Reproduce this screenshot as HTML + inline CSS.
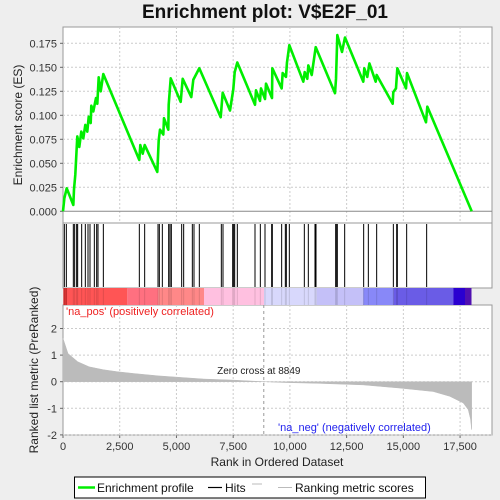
<!DOCTYPE html>
<html><head><meta charset="utf-8"><style>
body{margin:0;background:#eeeeee;}
svg{display:block;font-family:"Liberation Sans","DejaVu Sans",sans-serif;}
</style></head><body>
<svg id="chart" width="500" height="500"></svg>
<script>
const esRanks=[0,59,163,455,485,542,630,718,807,895,983,1071,1133,1221,1247,1335,1454,1512,1573,1662,1776,3363,3407,3513,3601,4156,4218,4275,4421,4451,4641,4658,4747,5187,5275,5654,5743,6007,6950,7038,7360,7505,7567,7682,8462,8506,8682,8726,8903,8947,9211,9226,9637,9681,9827,9871,9975,10591,10653,10767,10812,10962,11137,11988,12032,12090,12296,12428,13235,13279,13411,13504,13781,13825,14530,14556,14675,14735,15117,15161,15998,16056,18012];
const esValues=[0,0.0135,0.024,0.0066,0.023,0.038,0.078,0.067,0.083,0.076,0.090,0.083,0.0985,0.092,0.110,0.104,0.118,0.112,0.1396,0.125,0.143,0.0535,0.069,0.060,0.069,0.041,0.074,0.085,0.080,0.097,0.085,0.111,0.1385,0.114,0.138,0.119,0.137,0.149,0.098,0.1235,0.105,0.127,0.145,0.155,0.111,0.126,0.115,0.128,0.117,0.133,0.118,0.149,0.128,0.144,0.140,0.155,0.173,0.135,0.145,0.138,0.152,0.142,0.171,0.123,0.138,0.1836,0.166,0.181,0.135,0.149,0.140,0.154,0.135,0.142,0.112,0.124,0.128,0.149,0.128,0.144,0.0927,0.109,0];
const hitRanks=[59,147,455,514,602,646,823,984,1102,1190,1381,1484,1543,1778,3364,3599,4187,4246,4378,4657,4716,4775,5230,5318,5700,5773,6008,6978,7051,7478,7522,7566,7683,8462,8697,8903,9196,9226,9637,9799,9843,9975,10636,10812,11106,11150,12017,12046,12090,12414,13251,13457,13824,14559,14706,14735,15146,16027];
const metricRanks=[0,220,650,1150,1780,2400,3100,4200,5200,6200,7500,8849,9710,11175,13230,14850,16320,17050,17640,17860,17960,18010];
const metricValues=[1.63,1.06,0.75,0.56,0.45,0.375,0.31,0.22,0.16,0.10,0.06,0,-0.03,-0.06,-0.12,-0.24,-0.37,-0.55,-0.8,-1.05,-1.4,-1.8];
const xTicks=[0,2500,5000,7500,10000,12500,15000,17500];
const esTicks=[0,0.025,0.05,0.075,0.1,0.125,0.15,0.175];
const metricTicks=[2,1,0,-1,-2];
const zeroCross=8849;

const NS="http://www.w3.org/2000/svg";
const svg=document.getElementById('chart');
const L=63,R=492;
const xs=r=>L+r*0.02269;
const yES=v=>211.3-v*960;
const yM=v=>381.7-v*26.6;
function el(t,a,p){const e=document.createElementNS(NS,t);for(const k in a)e.setAttribute(k,a[k]);(p||svg).appendChild(e);return e;}
function txt(s,a){const e=el('text',a);e.textContent=s;return e;}

// title
let t=txt('Enrichment plot: V$E2F_01',{x:265,y:18,'text-anchor':'middle','font-size':19,'font-weight':'bold',fill:'#111'});


// panels backgrounds
let p1=el('rect',{x:L,y:27,width:R-L,height:196,fill:'#fff',stroke:'#999'});

let p2=el('rect',{x:L,y:223,width:R-L,height:65,fill:'#fff',stroke:'#999'});

let p3=el('rect',{x:L,y:305,width:R-L,height:130,fill:'#fff',stroke:'#999'});


// grids
xTicks.forEach(v=>{
 if(v>0){el('line',{x1:xs(v),x2:xs(v),y1:27,y2:223,stroke:'#ccc','stroke-dasharray':'2,2'});
 el('line',{x1:xs(v),x2:xs(v),y1:305,y2:435,stroke:'#ccc','stroke-dasharray':'2,2'});}
 let tl=txt(v.toLocaleString('en-US'),{x:xs(v),y:450,'text-anchor':'middle','font-size':11,fill:'#333'});
 
 el('line',{x1:xs(v),x2:xs(v),y1:435,y2:438,stroke:'#666'});
});
esTicks.forEach(v=>{
 if(v>0)el('line',{x1:L,x2:R,y1:yES(v),y2:yES(v),stroke:'#ccc','stroke-dasharray':'2,2'});
 let tl=txt(v.toFixed(3),{x:57,y:yES(v)+4,'text-anchor':'end','font-size':11,fill:'#333'});
 
 el('line',{x1:L-3,x2:L,y1:yES(v),y2:yES(v),stroke:'#666'});
});
el('line',{x1:L,x2:R,y1:yES(0),y2:yES(0),stroke:'#888'});
metricTicks.forEach(v=>{
 el('line',{x1:L,x2:R,y1:yM(v),y2:yM(v),stroke:'#ccc','stroke-dasharray':'2,2'});
 let tl=txt(String(v),{x:57,y:yM(v)+4,'text-anchor':'end','font-size':11,fill:'#333'});
 
 el('line',{x1:L-3,x2:L,y1:yM(v),y2:yM(v),stroke:'#666'});
});

// metric area
let d='M'+xs(0)+','+yM(0);
metricRanks.forEach((r,i)=>{d+=' L'+xs(r)+','+yM(metricValues[i]);});
d+=' L'+xs(metricRanks[metricRanks.length-1])+','+yM(0)+' Z';
let ma=el('path',{d:d,fill:'#bbbbbb',stroke:'#bbbbbb','stroke-width':0.5});


// zero cross
el('line',{x1:xs(zeroCross),x2:xs(zeroCross),y1:305,y2:435,stroke:'#999','stroke-dasharray':'3,3'});
let zc=txt('Zero cross at '+zeroCross,{x:xs(zeroCross)-5,y:374,'text-anchor':'middle','font-size':10,fill:'#222'});

let np=txt("'na_pos' (positively correlated)",{x:66,y:315,'font-size':11,fill:'#ee2222'});

let nn=txt("'na_neg' (negatively correlated)",{x:278,y:431,'font-size':11,fill:'#2222ee'});


// color bar
const segs=[[63.3,67,'#dd3333'],[67,127.3,'#ff5555'],[127.3,158.3,'#ff7080'],[158.3,204,'#ff8888'],[204,264,'#ffc0e0'],[264,316.7,'#d8d8fc'],[316.7,363.3,'#c4c0f8'],[363.3,393.3,'#8888f8'],[393.3,453.3,'#6a5ce6'],[453.3,465,'#2a00d0'],[465,471.5,'#5010b0']];
segs.forEach(s=>{let r=el('rect',{x:s[0],y:288,width:s[1]-s[0],height:17,fill:s[2]});
 });
hitRanks.forEach(r=>{el('line',{x1:xs(r),x2:xs(r),y1:288,y2:305,stroke:'rgba(0,0,0,0.12)'});});

// hits
hitRanks.forEach(r=>{let h=el('line',{x1:xs(r),x2:xs(r),y1:224,y2:287,stroke:'#000','stroke-width':1});
 });

// ES curve
let pts=esRanks.map((r,i)=>xs(r)+','+yES(esValues[i])).join(' ');
let es=el('polyline',{points:pts,fill:'none',stroke:'#00ee00','stroke-width':2.6,'stroke-linejoin':'round'});


// axis titles
let xt=txt('Rank in Ordered Dataset',{x:277,y:466,'text-anchor':'middle','font-size':12,fill:'#222'});

let y1=txt('Enrichment score (ES)',{x:0,y:0,'text-anchor':'middle','font-size':12,fill:'#222',transform:'translate(22,125) rotate(-90)'});

let y2=txt('Ranked list metric (PreRanked)',{x:0,y:0,'text-anchor':'middle','font-size':12,fill:'#222',transform:'translate(38,370) rotate(-90)'});


// legend
let lg=el('g',{});

el('rect',{x:74.5,y:477,width:351,height:21,fill:'#fff',stroke:'#000'},lg);
el('line',{x1:78,x2:95,y1:487.5,y2:487.5,stroke:'#00ee00','stroke-width':2.5},lg);
let l1=txt('Enrichment profile',{x:97,y:492,'font-size':12,fill:'#111'});lg.appendChild(l1);

el('line',{x1:208,x2:222,y1:487.5,y2:487.5,stroke:'#000','stroke-width':1.2},lg);
let l2=txt('Hits',{x:225,y:492,'font-size':12,fill:'#111'});lg.appendChild(l2);

el('line',{x1:252,x2:262,y1:484,y2:484,stroke:'#bbb'},lg);
el('line',{x1:278,x2:292,y1:487.5,y2:487.5,stroke:'#bbb'},lg);
let l3=txt('Ranking metric scores',{x:295,y:492,'font-size':12,fill:'#111'});lg.appendChild(l3);

</script>
</body></html>
